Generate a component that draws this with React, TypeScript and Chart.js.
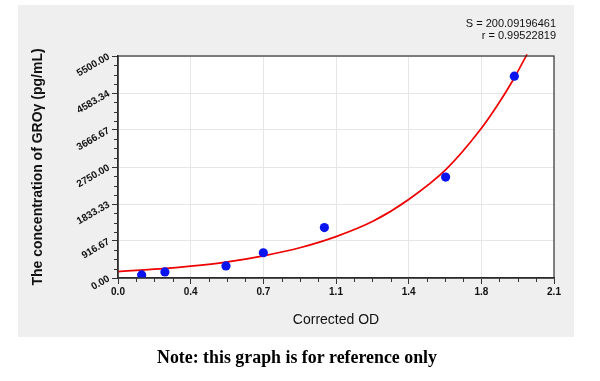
import React, { useEffect, useRef } from "react";
import { Chart, registerables } from "chart.js";

Chart.register(...registerables);

// Standard points (Corrected OD vs concentration)
const odValues = [0.114, 0.226, 0.52, 0.7, 0.994, 1.578, 1.909];
const concValues = [75, 150, 300, 625, 1250, 2500, 5000];

// Fitted curve
const curveOD = [0, 0.2, 0.35, 0.52, 0.7, 0.88, 1.05, 1.23, 1.4, 1.58, 1.74, 1.83, 1.9, 1.97];
const curveConc = [160, 225, 292, 393, 550, 755, 1025, 1410, 1945, 2690, 3640, 4300, 4880, 5540];

// Axis ticks
const xTickValues = [0, 0.35, 0.7, 1.05, 1.4, 1.75, 2.1];
const xTickLabels = ["0.0", "0.4", "0.7", "1.1", "1.4", "1.8", "2.1"];
const yTickValues = [0, 916.6667, 1833.3333, 2750, 3666.6667, 4583.3333, 5500];
const yTickLabels = ["0.00", "916.67", "1833.33", "2750.00", "3666.67", "4583.34", "5500.00"];

const statLines = ["S = 200.09196461", "r = 0.99522819"];
const yTitle = "The concentration of GROγ (pg/mL)";
const xTitle = "Corrected OD";
const noteText = "Note: this graph is for reference only";

const SANS = '"Liberation Sans", Arial, sans-serif';

const decorPlugin = {
  id: "decor",
  beforeDraw(chart: any) {
    const ctx = chart.ctx;
    ctx.save();
    ctx.fillStyle = "#ffffff";
    ctx.fillRect(0, 0, chart.width, chart.height);
    ctx.fillStyle = "#efefef";
    ctx.fillRect(18, 5, 556, 332);
    const a = chart.chartArea;
    ctx.fillStyle = "#ffffff";
    ctx.fillRect(a.left, a.top, a.right - a.left, a.bottom - a.top);
    ctx.restore();
  },
  afterDraw(chart: any) {
    const ctx = chart.ctx;
    const a = chart.chartArea;
    const xs = chart.scales.x;
    const ys = chart.scales.y;
    ctx.save();
    // frame
    ctx.strokeStyle = "#333333";
    ctx.lineWidth = 1.2;
    ctx.strokeRect(a.left, a.top, a.right - a.left, a.bottom - a.top);
    // minor ticks
    ctx.strokeStyle = "#333333";
    ctx.lineWidth = 1;
    for (let i = 0; i < xTickValues.length - 1; i++) {
      const step = (xTickValues[i + 1] - xTickValues[i]) / 4;
      for (let k = 1; k < 4; k++) {
        const px = Math.round(xs.getPixelForValue(xTickValues[i] + step * k)) + 0.5;
        ctx.beginPath();
        ctx.moveTo(px, a.bottom);
        ctx.lineTo(px, a.bottom + 4);
        ctx.stroke();
      }
    }
    for (let i = 0; i < yTickValues.length - 1; i++) {
      const step = (yTickValues[i + 1] - yTickValues[i]) / 4;
      for (let k = 1; k < 4; k++) {
        const py = Math.round(ys.getPixelForValue(yTickValues[i] + step * k)) + 0.5;
        ctx.beginPath();
        ctx.moveTo(a.left - 4, py);
        ctx.lineTo(a.left, py);
        ctx.stroke();
      }
    }
    // stats text
    ctx.fillStyle = "#111111";
    ctx.font = `11px ${SANS}`;
    ctx.textAlign = "right";
    ctx.textBaseline = "middle";
    ctx.fillText(statLines[0], 556, 24);
    ctx.fillText(statLines[1], 556, 36);
    // note
    ctx.font = 'bold 18px "Liberation Serif", "DejaVu Serif", serif';
    ctx.textAlign = "center";
    ctx.fillStyle = "#000000";
    ctx.fillText(noteText, 297, 358, 280);
    ctx.restore();
  },
};

export default function App() {
  const ref = useRef<HTMLCanvasElement | null>(null);
  useEffect(() => {
    if (!ref.current) return;
    const chart = new Chart(ref.current, {
      type: "scatter",
      data: {
        datasets: [
          {
            label: "fit",
            data: curveOD.map((x, i) => ({ x, y: curveConc[i] })),
            showLine: true,
            borderColor: "#ee0000",
            borderWidth: 1.7,
            pointRadius: 0,
            cubicInterpolationMode: "monotone",
            clip: 5,
            order: 2,
          } as any,
          {
            label: "std",
            data: odValues.map((x, i) => ({ x, y: concValues[i] })),
            showLine: false,
            backgroundColor: "#0a14f0",
            borderColor: "#0a14f0",
            pointRadius: 4.6,
            pointBorderWidth: 0,
            order: 1,
          } as any,
        ],
      },
      options: {
        animation: false,
        responsive: false,
        devicePixelRatio: 1,
        layout: { padding: { left: 0, top: 56, right: 46, bottom: 0 } },
        plugins: { legend: { display: false }, tooltip: { enabled: false } },
        scales: {
          x: {
            type: "linear",
            min: 0,
            max: 2.1,
            afterBuildTicks: (s: any) => {
              s.ticks = xTickValues.map((v) => ({ value: v }));
            },
            afterFit: (s: any) => {
              s.height = 103;
            },
            ticks: {
              callback: (_v: any, i: number) => xTickLabels[i],
              font: { family: SANS, size: 10, weight: "bold" },
              color: "#111111",
              padding: 2,
              maxRotation: 0,
              minRotation: 0,
            },
            grid: { color: "#e6e6e6", lineWidth: 1, tickLength: 6, tickColor: "#333333" },
            border: { color: "#222222", width: 1.5 },
            title: {
              display: true,
              text: xTitle,
              font: { family: SANS, size: 14 },
              color: "#111111",
              padding: { top: 0, bottom: 52 },
            },
          },
          y: {
            type: "linear",
            min: 0,
            max: 5500,
            afterBuildTicks: (s: any) => {
              s.ticks = yTickValues.map((v) => ({ value: v }));
            },
            afterFit: (s: any) => {
              s.width = 118;
            },
            ticks: {
              callback: (_v: any, i: number) => yTickLabels[i],
              font: { family: SANS, size: 10, weight: "bold" },
              color: "#111111",
              padding: 3,
              minRotation: 30,
              maxRotation: 30,
            },
            grid: { color: "#e6e6e6", lineWidth: 1, tickLength: 6, tickColor: "#333333" },
            border: { color: "#222222", width: 1.5 },
            title: {
              display: true,
              text: yTitle,
              font: { family: SANS, size: 14, weight: "bold" },
              color: "#111111",
              padding: { top: 30, bottom: 0 },
            },
          },
        },
      },
      plugins: [decorPlugin],
    } as any);
    return () => chart.destroy();
  }, []);
  return (
    <div style={{ position: "fixed", left: 0, top: 0, width: 600, height: 381 }}>
      <canvas ref={ref} width={600} height={381} style={{ width: 600, height: 381, display: "block" }} />
    </div>
  );
}
